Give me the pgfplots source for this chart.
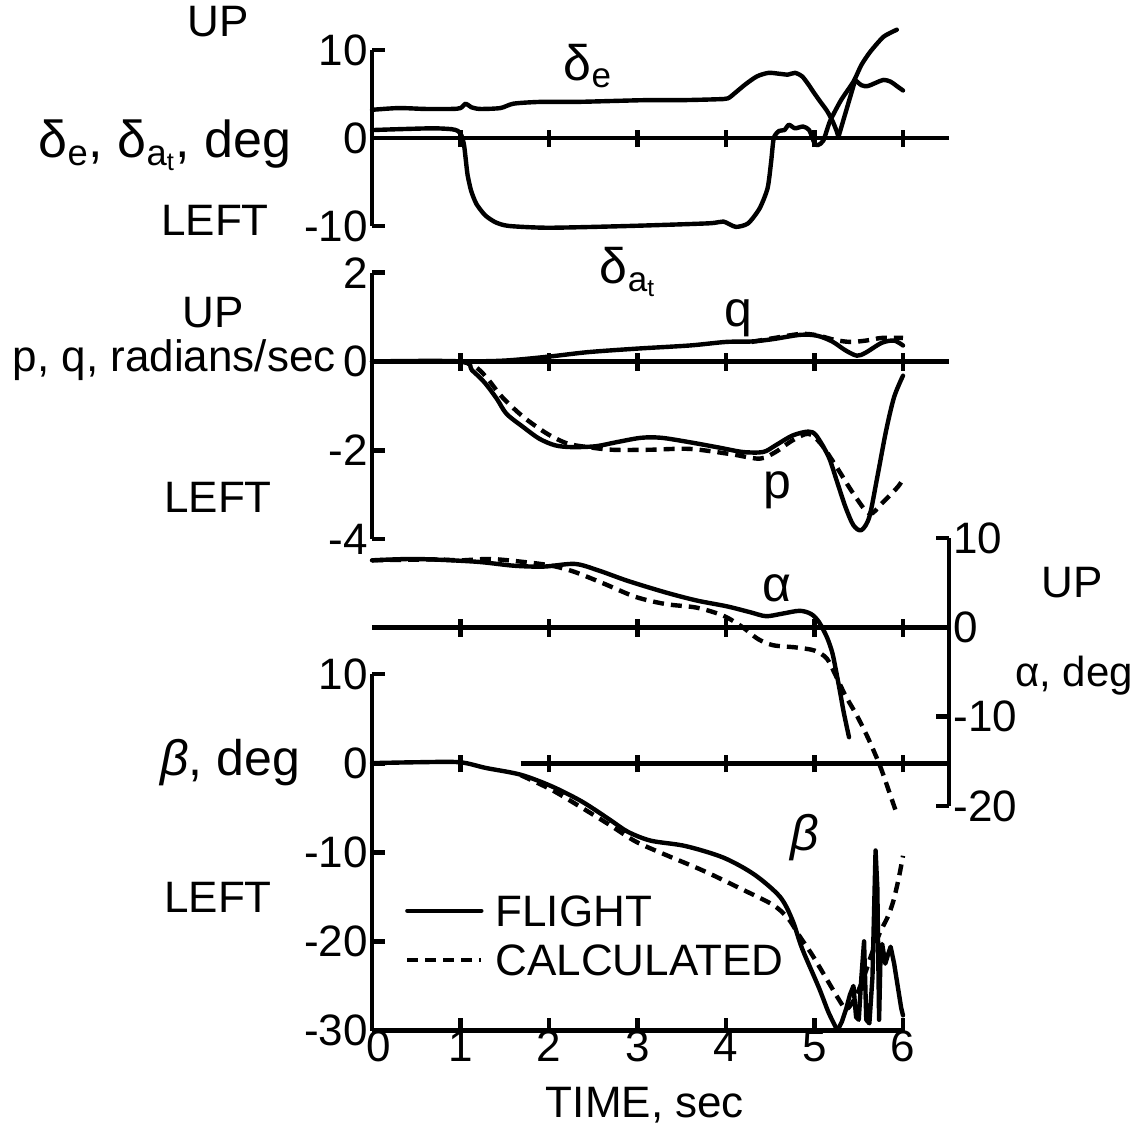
\documentclass[border=0pt]{standalone}
\usepackage{fontspec}
\setmainfont{Liberation Sans}
\usepackage{pgfplots}
\pgfplotsset{compat=1.18}
\newcommand\lbl{\fontsize{22}{26}\selectfont}
\newcommand\mlbl{\fontsize{21}{25}\selectfont}
\newcommand\blbl{\fontsize{25}{30}\selectfont}
\newcommand\hlbl{\fontsize{26}{31}\selectfont}
\tikzset{zline/.style={line width=2.4pt, line cap=butt}}
\pgfplotsset{
  base/.style={scale only axis, anchor=south west, clip=false, xmin=0,
    axis line style={line width=2.4pt},
    every tick/.style={black, line width=2.4pt, line cap=butt},
    major tick length=6.5pt,
    tick label style={font=\lbl, inner sep=2pt},
    /pgf/number format/assume math mode=true},
  noarrow/.style={every inner x axis line/.append style={-}, every outer x axis line/.append style={-},
    every inner y axis line/.append style={-}, every outer y axis line/.append style={-},
    x axis line style={-}, y axis line style={-}},
  flight/.style={black, line width=2.2pt, line join=round, line cap=round},
  calc/.style={flight, line cap=butt, dash pattern=on 5.5pt off 3.5pt},
}
\newcommand\zeroline[2]{%
  \draw[zline] (axis cs:#1,0) -- (axis cs:#2,0);
  \pgfplotsinvokeforeach{1,2,3,4,5,6}{\draw[zline] ([yshift=-4.6pt]axis cs:##1,0) -- ([yshift=4.0pt]axis cs:##1,0);}%
}
\begin{document}
\begin{tikzpicture}
\path[use as bounding box] (0,0) rectangle (569pt,569.5pt);
% ---------- panel 1: delta_e, delta_at ----------
\begin{axis}[base, at={(186pt,456.5pt)}, width=288.5pt, height=88pt,
  xmax=6.52, ymin=-10, ymax=10,
  axis x line=none, axis y line=left, xtick=\empty,
  ytick={-10,0,10}, yticklabels={-10,0,10}, ytick align=inside, noarrow]
\zeroline{0}{6.52}
\addplot[flight, smooth, tension=0.45] coordinates {(0,3.2)(0.3,3.4)(0.6,3.3)(0.9,3.3)(1.0,3.4)(1.06,3.9)(1.12,3.5)(1.22,3.3)(1.45,3.4)(1.6,3.9)(1.9,4.1)(2.3,4.1)(2.7,4.2)(3.1,4.3)(3.5,4.3)(3.9,4.4)(4.02,4.5)(4.1,5.1)(4.22,6.1)(4.35,7.0)(4.48,7.4)(4.6,7.3)(4.7,7.2)(4.78,7.4)(4.86,7.0)(4.93,6.1)(4.99,5.2)(5.06,4.2)(5.14,3.1)(5.2,2.0)(5.25,0.8)(5.27,0.1)};
\addplot[flight] coordinates {(5.27,0.1)(5.46,6.6)};
\addplot[flight, smooth, tension=0.5] coordinates {(5.46,6.6)(5.53,6.0)(5.6,5.9)(5.7,6.3)(5.78,6.6)(5.86,6.4)(5.93,5.9)(6.0,5.4)};
\addplot[flight, smooth, tension=0.4] coordinates {(0,0.9)(0.3,1.0)(0.69,1.1)(0.9,1.0)(0.97,0.8)(1.01,0.3)(1.04,-0.8)(1.06,-2.5)(1.08,-4.2)(1.12,-6.0)(1.18,-7.5)(1.28,-8.8)(1.4,-9.6)(1.55,-10.0)(2.0,-10.2)(2.9,-10.0)(3.8,-9.7)(3.97,-9.5)(4.11,-10.1)(4.25,-9.7)(4.38,-8.0)(4.47,-5.7)(4.51,-2.7)(4.54,0.0)(4.6,0.8)(4.66,0.9)(4.71,1.5)(4.78,1.1)(4.87,1.3)(4.94,0.9)(5.0,-0.6)(5.04,-0.8)(5.1,-0.3)(5.175,1.9)(5.3,4.3)(5.44,6.4)(5.53,8.3)(5.63,9.8)(5.78,11.5)(5.93,12.3)};
\end{axis}
% ---------- panel 2: p, q ----------
\begin{axis}[base, at={(186pt,300pt)}, width=288.5pt, height=133.15pt,
  xmax=6.52, ymin=-4, ymax=2,
  axis x line=none, axis y line=left, xtick=\empty,
  ytick={-4,-2,0,2}, yticklabels={-4,-2,0,2}, ytick align=inside, noarrow]
\zeroline{0}{6.52}
\addplot[flight, smooth, tension=0.5] coordinates {(0,0)(1.0,0)(1.5,0.02)(2.0,0.11)(2.44,0.21)(3.0,0.29)(3.59,0.36)(4.0,0.44)(4.29,0.45)(4.52,0.5)(4.84,0.6)(5.03,0.58)(5.2,0.45)(5.35,0.25)(5.48,0.13)(5.58,0.2)(5.76,0.42)(5.9,0.47)(6.0,0.36)};
\addplot[calc, smooth, tension=0.5] coordinates {(4.29,0.44)(4.52,0.52)(4.84,0.62)(5.03,0.59)(5.22,0.49)(5.4,0.44)(5.58,0.47)(5.76,0.53)(6.0,0.53)};
\addplot[flight, smooth, tension=0.5] coordinates {(0,0)(1.0,0)(1.13,-0.2)(1.27,-0.47)(1.41,-0.84)(1.52,-1.18)(1.71,-1.48)(1.89,-1.74)(2.07,-1.89)(2.26,-1.93)(2.53,-1.91)(2.76,-1.82)(3.04,-1.72)(3.27,-1.72)(3.59,-1.82)(3.92,-1.94)(4.19,-2.04)(4.42,-2.04)(4.56,-1.89)(4.75,-1.67)(4.93,-1.58)(5.02,-1.67)(5.16,-2.15)(5.25,-2.68)(5.35,-3.28)(5.44,-3.69)(5.53,-3.8)(5.62,-3.5)(5.71,-2.6)(5.81,-1.55)(5.9,-0.8)(6.0,-0.32)};
\addplot[calc, smooth, tension=0.5] coordinates {(1.0,0)(1.15,-0.09)(1.29,-0.35)(1.47,-0.8)(1.71,-1.25)(1.98,-1.63)(2.21,-1.85)(2.44,-1.93)(2.72,-1.99)(3.13,-1.99)(3.59,-1.97)(4.06,-2.09)(4.38,-2.19)(4.56,-2.04)(4.75,-1.78)(4.93,-1.63)(5.07,-1.85)(5.25,-2.38)(5.44,-2.98)(5.62,-3.43)(5.76,-3.2)(5.94,-2.83)(6.0,-2.65)};
\end{axis}
% ---------- panel 3: alpha ----------
\begin{axis}[base, at={(186pt,166.5pt)}, width=288.5pt, height=134pt,
  xmax=6.52, ymin=-20, ymax=10,
  axis x line=none, axis y line=right, xtick=\empty,
  ytick={-20,-10,0,10}, yticklabels={-20,-10,0,10}, ytick align=inside, noarrow]
\zeroline{0}{6.52}
\addplot[flight, smooth, tension=0.5] coordinates {(0,7.5)(0.5,7.65)(1.17,7.35)(1.6,6.9)(1.94,6.8)(2.29,7.1)(2.55,6.4)(2.89,5.2)(3.32,3.9)(3.67,3.0)(4.01,2.35)(4.27,1.7)(4.45,1.25)(4.62,1.5)(4.83,1.85)(4.96,1.5)(5.05,0.6)(5.14,-1.1)(5.2,-2.8)(5.24,-4.7)(5.29,-7.3)(5.33,-9.5)(5.39,-12.3)};
\addplot[calc, smooth, tension=0.5] coordinates {(0,7.5)(0.7,7.6)(1.0,7.5)(1.34,7.65)(1.73,7.3)(2.03,6.9)(2.29,6.2)(2.63,4.85)(2.98,3.4)(3.32,2.6)(3.67,2.2)(3.97,1.3)(4.19,0.0)(4.36,-1.3)(4.53,-2.0)(4.79,-2.25)(5.0,-2.6)(5.14,-3.5)(5.24,-5.4)(5.35,-7.65)(5.48,-9.9)(5.61,-12.5)(5.74,-15.5)(5.84,-18.3)(5.92,-20.6)};
\end{axis}
% ---------- panel 4: beta ----------
\begin{axis}[base, at={(186pt,54.25pt)}, width=265.5pt, height=178.25pt,
  xmax=6, ymin=-30, ymax=10,
  axis x line=bottom, axis y line=left,
  xtick={0,1,2,3,4,5,6}, xticklabels={\hspace*{7pt}0,1,2,3,4,5,6}, xtick align=inside,
  xticklabel style={yshift=2pt},
  ytick={-30,-20,-10,0,10}, yticklabels={-30,-20,-10,0,10}, ytick align=inside,
  legend style={at={(axis cs:0.37,-14.5)}, anchor=north west, draw=none, fill=none,
    font=\lbl, inner sep=0pt, row sep=6.5pt, column sep=5pt,
    nodes={inner sep=1pt, text height=16pt, text depth=0pt}},
  legend cell align=left,
  legend image code/.code={\draw[#1] (0pt,0pt) -- (37pt,0pt);}, noarrow]
\addplot[flight, smooth, tension=0.5] coordinates {(0,0)(0.52,0.1)(0.99,0.1)(1.29,-0.55)(1.68,-1.3)(2.03,-2.6)(2.37,-4.3)(2.68,-6.3)(2.89,-7.7)(3.15,-8.7)(3.54,-9.3)(3.97,-10.6)(4.32,-12.5)(4.61,-15.0)(4.75,-17.6)(4.86,-20.8)(5.05,-25.2)(5.16,-28)(5.26,-30)};
\addlegendentry{FLIGHT}
\addplot[calc, smooth, tension=0.5] coordinates {(1.68,-1.35)(2.03,-3.0)(2.37,-5.0)(2.68,-6.9)(2.98,-8.8)(3.32,-10.3)(3.75,-12.1)(4.19,-14.2)(4.53,-15.9)(4.7,-17.4)(4.83,-19.4)(4.96,-21.3)(5.1,-23.6)(5.28,-26.6)(5.36,-27.6)(5.45,-26.5)(5.55,-24.2)(5.65,-21.3)(5.74,-19.0)(5.83,-17.2)(5.89,-15.5)(5.95,-13.0)(6.0,-10.4)};
\addlegendentry{CALCULATED}
\addplot[flight, forget plot] coordinates {(5.26,-30.0)(5.31,-29.0)(5.36,-27.5)(5.40,-26.0)(5.44,-25.0)(5.47,-28.5)(5.50,-28.8)(5.53,-24)(5.56,-20.0)(5.585,-28.8)(5.62,-29.2)(5.655,-24)(5.69,-9.8)(5.71,-14)(5.73,-28.8)(5.745,-22)(5.765,-20.3)(5.80,-22.5)(5.83,-21.5)(5.86,-20.6)(5.9,-22.5)(5.94,-25)(5.98,-27.5)(6.0,-28.3)};
\zeroline{1.68}{6.52}
\end{axis}
% ---------- text ----------
\begin{scope}[x=0.5pt, y=-0.5pt, yshift=569.5pt, every node/.style={inner sep=0pt}]
\node[font=\lbl] at (218,22) {UP};
\node[font=\hlbl, anchor=base east] at (292,158) {δ\textsubscript{e}, δ\textsubscript{a\textsubscript{t}}, deg};
\node[font=\lbl] at (215,220) {LEFT};
\node[font=\blbl] at (588,66) {δ\textsubscript{e}};
\node[font=\blbl] at (628,272) {δ\textsubscript{a\textsubscript{t}}};
\node[font=\lbl] at (213,313) {UP};
\node[font=\lbl, anchor=base east] at (336,372) {p, q, radians/sec};
\node[font=\blbl] at (738,318) {q};
\node[font=\lbl] at (218,497) {LEFT};
\node[font=\blbl] at (777,490) {p};
\node[font=\lbl] at (1072,583) {UP};
\node[font=\mlbl] at (1074,676) {α, deg};
\node[font=\blbl] at (777,588) {α};
\node[font=\blbl] at (230,763) {\textit{β}, deg};
\node[font=\lbl] at (218,897) {LEFT};
\node[font=\blbl] at (805,838) {\textit{β}};
\node[font=\lbl] at (645,1105) {TIME, sec};
\end{scope}
\end{tikzpicture}
\end{document}
